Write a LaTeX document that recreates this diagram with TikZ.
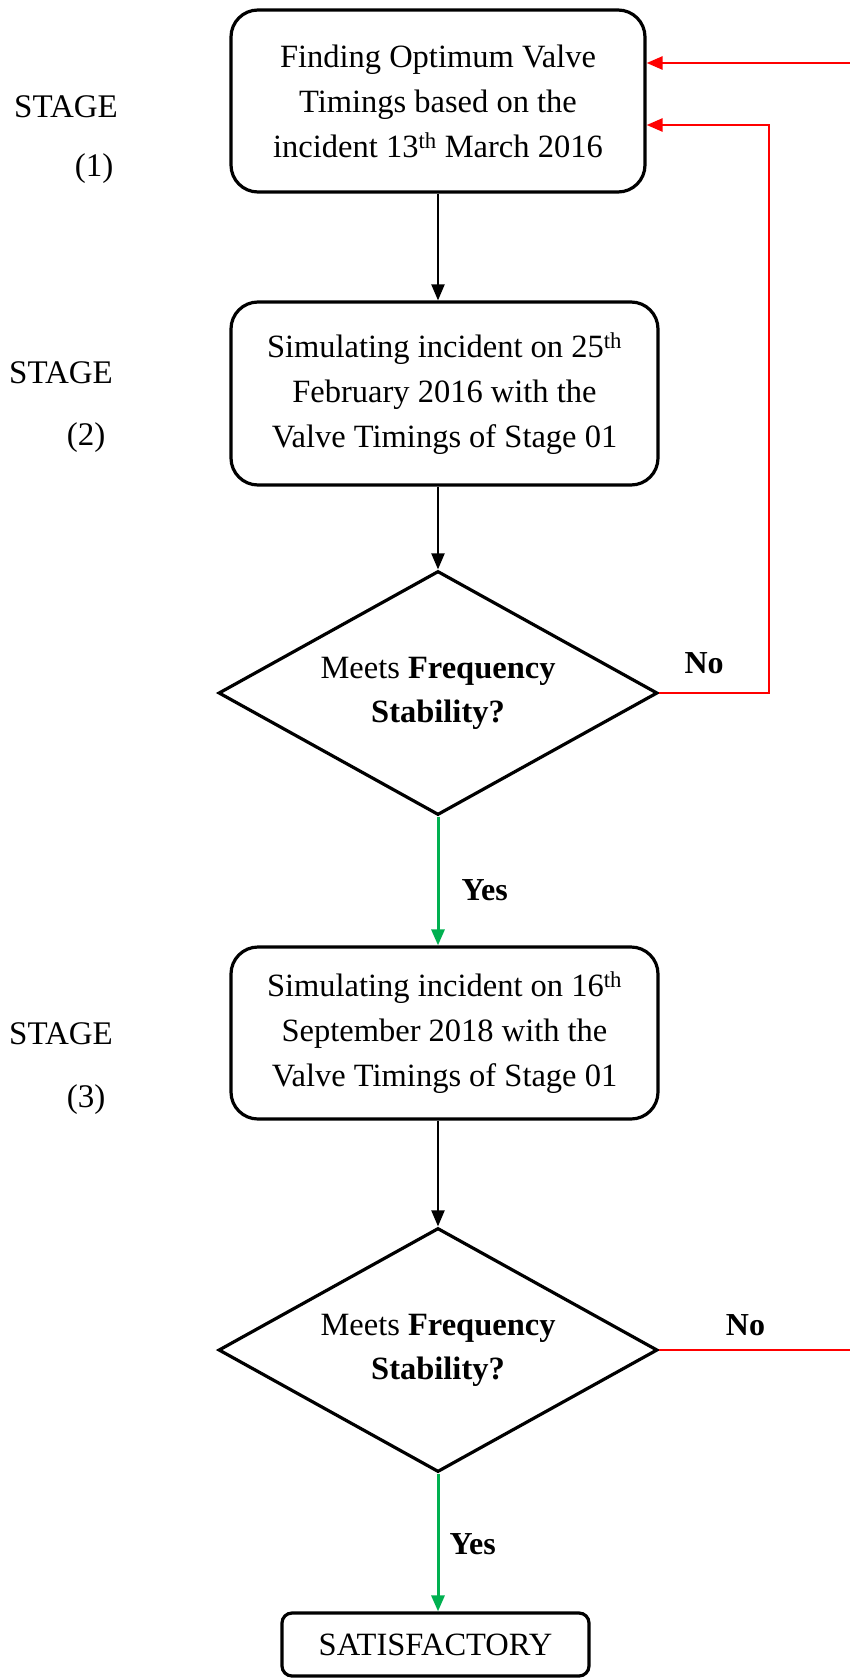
\documentclass[tikz,border=0pt]{standalone}
\usepackage{fontspec}
\setmainfont{Liberation Serif}
\usepackage{xcolor}
\usetikzlibrary{arrows.meta,positioning,shapes.geometric}
\definecolor{nored}{RGB}{255,0,0}
\definecolor{yesgreen}{RGB}{0,176,80}
\tikzset{
  process/.style={rounded corners=27pt, draw, line width=3.2pt, align=center, inner sep=0pt, font=\fontsize{32.5}{45}\selectfont},
  decision/.style={diamond, aspect=1.8, draw, line width=3.2pt, align=center, inner sep=0pt, minimum width=439pt, minimum height=244pt, font=\fontsize{32.5}{44}\selectfont},
  line/.style={-{Triangle[length=16pt,width=13pt]}, line width=2.2pt},
  noline/.style={line, draw=nored, line width=2.6pt},
  yesline/.style={line, draw=yesgreen, line width=3pt},
  lbl/.style={inner sep=0pt, font=\bfseries\fontsize{32}{36}\selectfont},
  stagelbl/.style={inner sep=0pt, font=\fontsize{33}{36}\selectfont}
}

\begin{document}
\begin{tikzpicture}[x=1pt, y=-1pt]
  \useasboundingbox (0,0) rectangle (850,1678);

  \node[stagelbl] (stage1) at (66,107) {STAGE};
  \node[stagelbl] (num1) at (94,169) {(1)};
  \node[stagelbl] (stage2) at (61,373) {STAGE};
  \node[stagelbl] (num2) at (86,438) {(2)};
  \node[stagelbl] (stage3) at (61,1034) {STAGE};
  \node[stagelbl] (num3) at (86,1100) {(3)};

  \node[process, minimum width=414pt, minimum height=182pt] (optim) at (438,101) {Finding Optimum Valve\\Timings based on the\\incident 13\textsuperscript{th} March 2016};
  \node[process, minimum width=427pt, minimum height=183pt] (sim25) at (444.5,393.5) {Simulating incident on 25\textsuperscript{th}\\February 2016 with the\\Valve Timings of Stage 01};
  \node[decision] (check1) at (438,693) {Meets \textbf{Frequency}\\\textbf{Stability?}};
  \node[process, minimum width=427pt, minimum height=172pt] (sim16) at (444.5,1033) {Simulating incident on 16\textsuperscript{th}\\September 2018 with the\\Valve Timings of Stage 01};
  \node[decision] (check2) at (438,1350) {Meets \textbf{Frequency}\\\textbf{Stability?}};
  \node[process, rounded corners=10pt, minimum width=307pt, minimum height=63pt] (done) at (435.5,1644.5) {SATISFACTORY};

  \draw[line] (optim) -- (sim25.north -| optim);
  \draw[line] (sim25.south -| check1) -- (check1);
  \draw[yesline] (check1) -- node[lbl, right=22pt, pos=0.57] {Yes} (sim16.north -| check1);
  \draw[line] (sim16.south -| check2) -- (check2);
  \draw[yesline] (check2) -- node[lbl, right=10pt, pos=0.51] {Yes} (done.north -| check2);

  % red feedback loops back to stage 1
  \coordinate (loopin) at (769,125);
  \coordinate (loopout) at (875,63);
  \draw[noline] (check1) -- node[lbl, above=18pt, pos=0.41] {No} (check1 -| loopin) |- (optim.east |- loopin);
  \draw[noline] (check2) -- node[lbl, above=13pt, pos=0.40] {No} (check2 -| loopout) |- (optim.east |- loopout);
\end{tikzpicture}
\end{document}
